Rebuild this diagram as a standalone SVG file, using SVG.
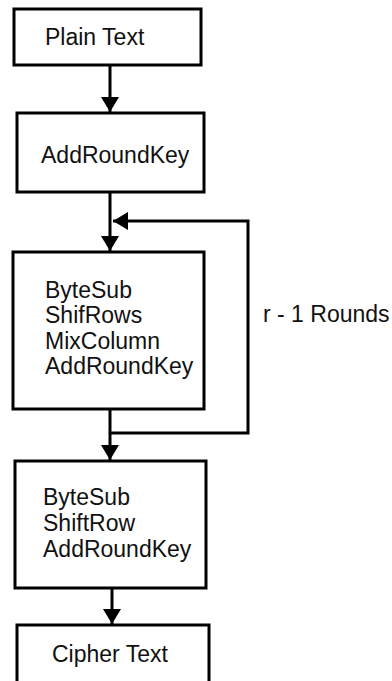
<svg xmlns="http://www.w3.org/2000/svg" width="392" height="681" viewBox="0 0 392 681">
  <style>
    .box { fill: #fff; stroke: #000; stroke-width: 3; }
    .lbl { font-family: "Liberation Sans", Arial, sans-serif; font-size: 23px; fill: #111; }
    .wire { fill: none; stroke: #000; stroke-width: 3; }
  </style>
  <defs>
    <marker id="head" markerWidth="6" markerHeight="6" refX="5" refY="3" orient="auto" markerUnits="strokeWidth">
      <path d="M0,0 L5,3 L0,6 Z" fill="#000"/>
    </marker>
  </defs>
  <rect width="392" height="681" fill="#fff"/>

  <g id="connectors">
    <line class="wire" x1="110" y1="65" x2="110" y2="112" marker-end="url(#head)"/>
    <line class="wire" x1="110" y1="192" x2="110" y2="251" marker-end="url(#head)"/>
    <line class="wire" x1="110" y1="409" x2="110" y2="460" marker-end="url(#head)"/>
    <polyline class="wire" points="110,433 248,433 248,221 113,221" marker-end="url(#head)"/>
    <line class="wire" x1="112" y1="588" x2="112" y2="624" marker-end="url(#head)"/>
  </g>

  <g id="plain-text">
    <rect class="box" x="14" y="9" width="187" height="56"/>
    <text class="lbl" x="45" y="45">Plain Text</text>
  </g>

  <g id="add-round-key">
    <rect class="box" x="17" y="113" width="187" height="79"/>
    <text class="lbl" x="41" y="163">AddRoundKey</text>
  </g>

  <g id="round">
    <rect class="box" x="13" y="252" width="191" height="157"/>
    <text class="lbl" x="45" y="298">ByteSub</text>
    <text class="lbl" x="45" y="323">ShifRows</text>
    <text class="lbl" x="45" y="349">MixColumn</text>
    <text class="lbl" x="45" y="374">AddRoundKey</text>
  </g>

  <g id="rounds-label">
    <text class="lbl" x="263" y="322">r - 1 Rounds</text>
  </g>

  <g id="final-round">
    <rect class="box" x="15" y="461" width="191" height="127"/>
    <text class="lbl" x="43" y="505">ByteSub</text>
    <text class="lbl" x="43" y="531">ShiftRow</text>
    <text class="lbl" x="43" y="557">AddRoundKey</text>
  </g>

  <g id="cipher-text">
    <rect class="box" x="17" y="625" width="192" height="70"/>
    <text class="lbl" x="52" y="662">Cipher Text</text>
  </g>
</svg>
